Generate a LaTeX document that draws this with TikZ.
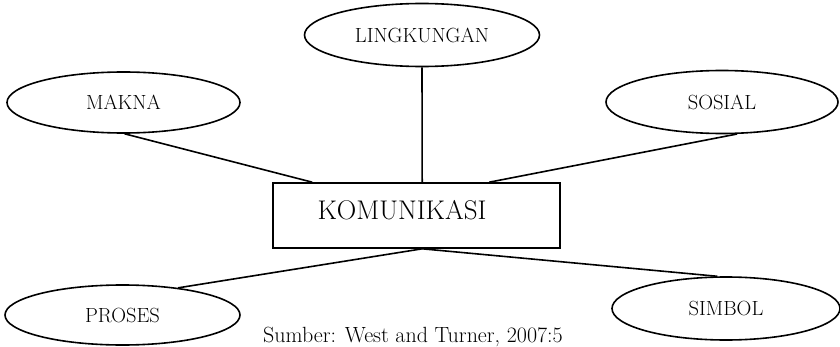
\documentclass[tikz,border=0pt]{standalone}
\usetikzlibrary{shapes.geometric,calc}
\begin{document}
\begin{tikzpicture}[x=1pt,y=1pt,
  conn/.style={line width=1.6pt},
  aspect/.style={ellipse,draw,line width=1.6pt,inner sep=0pt,
    font=\fontsize{20.5}{24}\selectfont},
  core/.style={rectangle,draw,line width=1.6pt,inner sep=0pt,
    minimum width=287pt,minimum height=65pt},
  coretext/.style={font=\fontsize{27}{32}\selectfont,inner sep=0pt,anchor=base},
  source/.style={font=\fontsize{22}{26}\selectfont,inner sep=0pt,anchor=base}]
\useasboundingbox (0,0) rectangle (840,346);

% central concept
\node[core] (box) at (416.5,130.5) {};
\node[coretext] (komunikasi) at ($(box.center)+(-14.5,-3.5)$) {KOMUNIKASI};

% surrounding aspects
\node[aspect,minimum width=235pt,minimum height=63pt] (lingk) at (422,311) {LINGKUNGAN};
\node[aspect,minimum width=233pt,minimum height=61pt] (makna) at (123.5,243.5) {MAKNA};
\node[aspect,minimum width=232pt,minimum height=63pt] (sosial) at (722,244) {SOSIAL};
\node[aspect,minimum width=235pt,minimum height=60pt] (proses) at (122.5,31) {PROSES};
\node[aspect,minimum width=228pt,minimum height=63pt] (simbol) at (726,37.5) {SIMBOL};

% attachment points on the box
\coordinate (tl) at ($(box.north west)+(40,0)$);
\coordinate (tm) at ($(box.north west)+(150,0)$);
\coordinate (tr) at ($(box.north west)+(217,0)$);
\coordinate (bm) at ($(box.south west)+(150,0)$);

% connectors
\draw[conn] (makna.-88) -- (tl);
\draw[conn] (lingk.south) -- (tm);
\draw[conn] (sosial.-65) -- (tr);
\draw[conn] (bm) -- (proses.26);
\draw[conn] (bm) -- (simbol.105);

% source line
\node[source] (src) at (413,3.5) {Sumber: West and Turner, 2007:5};
\end{tikzpicture}
\end{document}
